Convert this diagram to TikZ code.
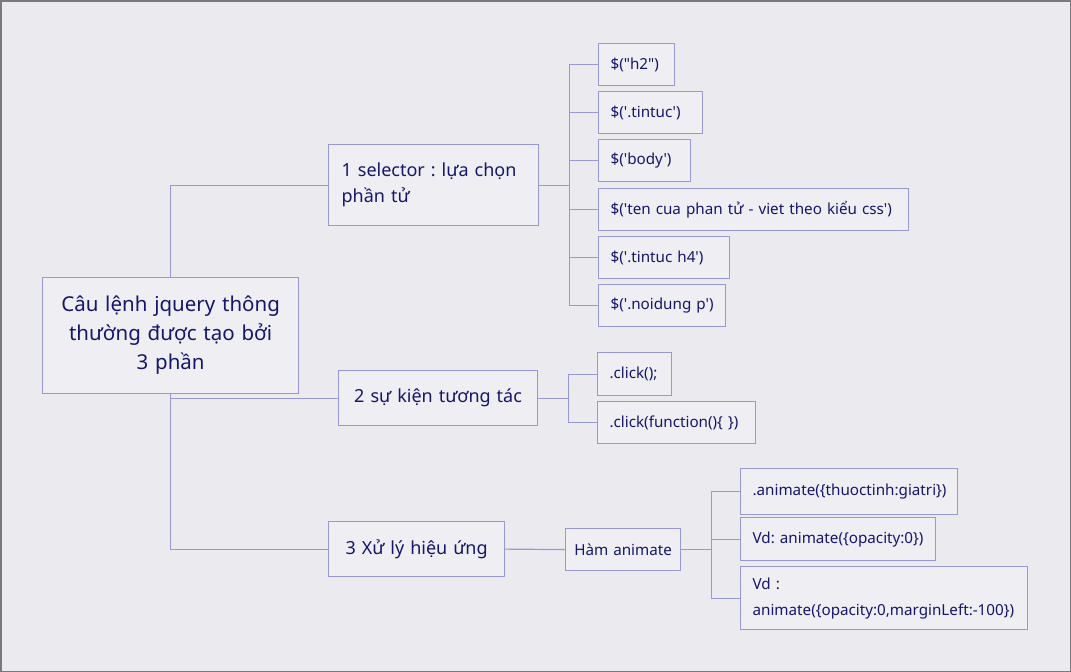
\documentclass[tikz,border=0pt]{standalone}
\usepackage{fontspec}
\setmainfont{Noto Sans}[Ligatures=TeXOff]
\usetikzlibrary{calc}
\definecolor{bgc}{HTML}{EBEBEF}
\definecolor{boxf}{HTML}{EEEEF3}
\definecolor{boxc}{HTML}{9898D6}
\definecolor{txt}{HTML}{16166A}
\definecolor{framec}{HTML}{7A7A7A}
\tikzset{
  box/.style={draw=boxc, fill=boxf, line width=1.2pt, inner xsep=12pt, inner ysep=0pt,
    text=txt, anchor=north west, align=left},
  link/.style={draw=boxc, line width=1.2pt},
}
\begin{document}
\frenchspacing
\begin{tikzpicture}[x=1pt,y=-1pt]
\useasboundingbox (0,0) rectangle (1071,672);
\fill[bgc] (0,0) rectangle (1071,672);
\draw[framec, line width=1.5pt] (0.75,0.75) rectangle (1070.25,671.25);

% root
\node[box, align=center, inner xsep=6pt, text width=244pt, minimum height=116pt,
  font=\fontsize{20.5}{29}\selectfont] (root) at (42,277)
  {Câu lệnh jquery thông\\thường được tạo bởi\\3 phần};

% level 1
\node[box, inner xsep=13pt, text width=184pt, minimum height=81pt, font=\fontsize{18}{26}\selectfont] (s1) at (328,144)
  {1 selector : lựa chọn\\phần tử};
\node[box, align=center, inner xsep=6pt, text width=187pt, minimum height=55pt, font=\fontsize{18}{26}\selectfont] (s2) at (338,370)
  {2 sự kiện tương tác};
\node[box, align=center, inner xsep=6pt, text width=164pt, minimum height=55pt, font=\fontsize{18}{26}\selectfont] (s3) at (328,521)
  {3 Xử lý hiệu ứng};

% selector children
\tikzset{child/.style={box, minimum height=42pt, font=\fontsize{15.2}{20}\selectfont}}
\node[child, text width=52pt]  (c1) at (598,43)  {\$("h2")};
\node[child, text width=80pt]  (c2) at (598,91)  {\$('.tintuc')};
\node[child, text width=68pt]  (c3) at (598,139) {\$('body')};
\node[child, text width=286pt] (c4) at (598,188) {\$('ten cua phan tử - viet theo kiểu css')};
\node[child, text width=107pt] (c5) at (598,236) {\$('.tintuc h4')};
\node[child, text width=103pt] (c6) at (598,284) {\$('.noidung p')};

% event children
\node[child, text width=50pt,  minimum height=43pt] (e1) at (597,352) {.click();};
\node[child, text width=134pt] (e2) at (597,401) {.click(function()\{ \})};

% effect children
\node[child, align=center, inner xsep=6pt, text width=103pt] (h) at (565,528) {Hàm animate};
\node[child, text width=193pt, minimum height=46pt] (a1) at (740,468) {.animate(\{thuoctinh:giatri\})};
\node[child, text width=171pt, minimum height=43pt] (a2) at (740,517) {Vd: animate(\{opacity:0\})};
\node[child, text width=263pt, minimum height=63pt, font=\fontsize{15.2}{26}\selectfont] (a3) at (740,566)
  {Vd :\\animate(\{opacity:0,marginLeft:-100\})};

% connectors from root
\draw[link] (root.north) |- (s1.west);
\draw[link] (root.south) |- (s3.west);
\draw[link] (root.south |- s2.west) -- (s2.west);

% selector bus
\draw[link] (s1.east) -- ++(30,0) coordinate (b1);
\draw[link] (b1 |- c1.west) -- (b1 |- c6.west);
\foreach \n in {c1,c2,c3,c4,c5,c6} \draw[link] (b1 |- \n.west) -- (\n.west);

% event bus
\draw[link] (s2.east) -- ++(30,0) coordinate (b2);
\draw[link] (b2 |- e1.west) -- (b2 |- e2.west);
\foreach \n in {e1,e2} \draw[link] (b2 |- \n.west) -- (\n.west);

% effect
\draw[link] (s3.east) -- (h.west);
\draw[link] (h.east) -- ++(30,0) coordinate (b3);
\draw[link] (b3 |- a1.west) -- (b3 |- a3.west);
\foreach \n in {a1,a2,a3} \draw[link] (b3 |- \n.west) -- (\n.west);
\end{tikzpicture}
\end{document}
